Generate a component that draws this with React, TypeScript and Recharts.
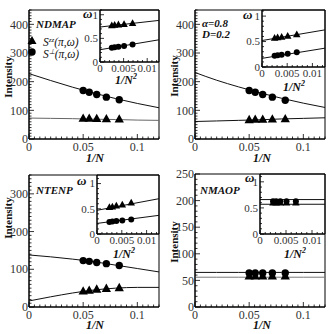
import React from 'react';
import { ComposedChart, XAxis, YAxis, Scatter, Line, ReferenceArea } from 'recharts';

// ---------- data ----------
const invN = [0.05, 0.0556, 0.0625, 0.0714, 0.0833];
const invN2 = [0.0025, 0.0031, 0.0039, 0.0051, 0.0069];
const fitN = [0, 0.02, 0.04, 0.06, 0.08, 0.1, 0.12];
const fitN2 = [0, 0.0125];

// NDMAP
const p1Perp = [169, 163, 155, 146, 137];
const p1Zz = [72, 72, 71, 70, 69];
const p1PerpFit = [228, 204, 181, 160, 141, 124, 109];
const p1ZzFit = [73, 72, 71, 69, 68, 66, 65];
const p1wZz = [0.77, 0.78, 0.79, 0.8, 0.82];
const p1wPerp = [0.3, 0.31, 0.32, 0.34, 0.37];
const p1wZzFit = [0.74, 0.88];
const p1wPerpFit = [0.26, 0.47];

// alpha=0.8, D=0.2
const p2Perp = [169, 163, 155, 146, 135];
const p2Zz = [67, 68, 68, 69, 70];
const p2PerpFit = [232, 205, 182, 161, 142, 125, 110];
const p2ZzFit = [61, 63, 65, 67, 70, 72, 74];
const p2wZz = [0.57, 0.58, 0.59, 0.61, 0.64];
const p2wPerp = [0.22, 0.23, 0.24, 0.26, 0.29];
const p2wZzFit = [0.52, 0.73];
const p2wPerpFit = [0.17, 0.37];

// NTENP
const p3Perp = [123, 121, 118, 115, 110];
const p3Zz = [42, 44, 47, 49, 51];
const p3PerpFit = [138, 133, 127, 120, 111, 102, 93];
const p3ZzFit = [16, 27, 37, 45, 50, 52, 52];
const p3wZz = [0.53, 0.54, 0.56, 0.58, 0.62];
const p3wPerp = [0.24, 0.25, 0.26, 0.27, 0.29];
const p3wZzFit = [0.47, 0.7];
const p3wPerpFit = [0.21, 0.37];

// NMAOP
const p4Perp = [64, 64, 64, 64, 64];
const p4Zz = [58, 58, 58, 58, 58];
const p4PerpFit = [65, 65, 65, 65, 65, 65, 65];
const p4ZzFit = [56, 56, 56, 56, 56, 56, 56];
const p4wPerp = [0.63, 0.63, 0.63, 0.63, 0.63];
const p4wZz = [0.6, 0.6, 0.6, 0.6, 0.6];
const p4wPerpFit = [0.66, 0.66];
const p4wZzFit = [0.57, 0.57];

// tick labels
const mainXMajor = [0, 0.05, 0.1];
const insetXMajor = [0, 0.005, 0.01];
const insetYMajor = [0, 0.5, 1];
const yMajor450 = [0, 100, 200, 300, 400];
const yMajor350 = [0, 100, 200, 300];
const yMajor250 = [0, 50, 100, 150, 200, 250];

const serif = "'Liberation Serif', 'Times New Roman', serif";

function steps(max: number, step: number) {
  const n = Math.floor(max / step + 1e-9);
  return Array.from({ length: n + 1 }, (_, i) => +(i * step).toFixed(6));
}
function pts(xs: number[], ys: number[]) {
  return xs.map((x, i) => ({ x, y: ys[i] }));
}

function makeTick(
  orient: 'bottom' | 'left',
  majors: number[],
  fmt: (v: number) => string,
  fontSize: number,
  majorLen: number,
  minorLen: number,
  margin: number
) {
  return (props: any) => {
    const { x, y, payload } = props;
    const v = payload.value;
    const isMajor = majors.some((m) => Math.abs(m - v) < 1e-9);
    const len = isMajor ? majorLen : minorLen;
    if (orient === 'bottom') {
      const ay = y - margin;
      return (
        <g>
          <line x1={x} y1={ay} x2={x} y2={ay - len} stroke="#000" strokeWidth={0.8} />
          {isMajor && (
            <text x={x} y={y} dy="0.72em" textAnchor="middle" fontSize={fontSize} fontFamily={serif} fill="#333">
              {fmt(v)}
            </text>
          )}
        </g>
      );
    }
    const ax = x + margin;
    return (
      <g>
        <line x1={ax} y1={y} x2={ax + len} y2={y} stroke="#000" strokeWidth={0.8} />
        {isMajor && (
          <text x={x} y={y} dy="0.35em" textAnchor="end" fontSize={fontSize} fontFamily={serif} fill="#333">
            {fmt(v)}
          </text>
        )}
      </g>
    );
  };
}

const fmtMainX = (v: number) => (v === 0 ? '0' : String(v));
const fmtNum = (v: number) => String(v);

const triShape = (s: number) => (props: any) => {
  const { cx, cy } = props;
  return (
    <polygon
      points={`${cx},${cy - s * 0.62} ${cx - s * 0.58},${cy + s * 0.42} ${cx + s * 0.58},${cy + s * 0.42}`}
      fill="#000"
    />
  );
};
const dotShape = (r: number) => (props: any) => <circle cx={props.cx} cy={props.cy} r={r} fill="#000" />;

const mainXTick = makeTick('bottom', mainXMajor, fmtMainX, 12, 5, 2.5, 3);
const insetXTick = makeTick('bottom', insetXMajor, fmtNum, 11, 4, 2, 2);
const insetYTick = makeTick('left', insetYMajor, fmtNum, 11, 4, 2, 2);

type MainProps = {
  left: number; top: number; mt: number; mr: number; yw: number; xh: number;
  yMax: number; yMajors: number[];
  perp: number[]; zz: number[]; perpFit: number[]; zzFit: number[]; zzColor: string;
};

function Main(p: MainProps) {
  const yTick = makeTick('left', p.yMajors, fmtNum, 12, 5, 2.5, 1);
  return (
    <div style={{ position: 'absolute', left: p.left, top: p.top }}>
      <ComposedChart width={167} height={167} margin={{ top: p.mt, right: p.mr, left: 0, bottom: 0 }}>
        <XAxis dataKey="x" type="number" domain={[0, 0.12]} ticks={steps(0.12, 0.005)} interval={0}
          tick={mainXTick} tickLine={false} tickSize={0} tickMargin={3} height={p.xh}
          axisLine={{ stroke: '#000' }} allowDataOverflow />
        <YAxis type="number" domain={[0, p.yMax]} ticks={steps(p.yMax, 10)} interval={0}
          tick={yTick} tickLine={false} tickSize={0} tickMargin={1} width={p.yw}
          axisLine={{ stroke: '#000' }} allowDataOverflow />
        <ReferenceArea x1={0} x2={0.12} y1={0} y2={p.yMax} fill="none" stroke="#000" strokeWidth={1} ifOverflow="visible" />
        <Line data={pts(fitN, p.zzFit)} dataKey="y" type="monotone" dot={false} activeDot={false}
          stroke={p.zzColor} strokeWidth={1} isAnimationActive={false} />
        <Line data={pts(fitN, p.perpFit)} dataKey="y" type="monotone" dot={false} activeDot={false}
          stroke="#111" strokeWidth={1} isAnimationActive={false} />
        <Scatter data={pts(invN, p.zz)} dataKey="y" shape={triShape(8)} isAnimationActive={false} />
        <Scatter data={pts(invN, p.perp)} dataKey="y" shape={dotShape(3.7)} isAnimationActive={false} />
      </ComposedChart>
    </div>
  );
}

type InsetProps = {
  left: number; top: number; width: number; height: number; yMax: number;
  perp: number[]; zz: number[]; perpFit: number[]; zzFit: number[];
};

function Inset(p: InsetProps) {
  return (
    <div style={{ position: 'absolute', left: p.left, top: p.top }}>
      <ComposedChart width={p.width} height={p.height} margin={{ top: 1, right: 1, left: 0, bottom: 0 }}>
        <XAxis dataKey="x" type="number" domain={[0, 0.0125]} ticks={steps(0.0125, 0.001)} interval={0}
          tick={insetXTick} tickLine={false} tickSize={0} tickMargin={2} height={14}
          axisLine={{ stroke: '#000' }} allowDataOverflow />
        <YAxis type="number" domain={[0, p.yMax]} ticks={steps(p.yMax, 0.1)} interval={0}
          tick={insetYTick} tickLine={false} tickSize={0} tickMargin={2} width={22}
          axisLine={{ stroke: '#000' }} allowDataOverflow />
        <ReferenceArea x1={0} x2={0.0125} y1={0} y2={p.yMax} fill="none" stroke="#000" strokeWidth={1} ifOverflow="visible" />
        <Line data={pts(fitN2, p.zzFit)} dataKey="y" type="linear" dot={false} activeDot={false}
          stroke="#111" strokeWidth={1} isAnimationActive={false} />
        <Line data={pts(fitN2, p.perpFit)} dataKey="y" type="linear" dot={false} activeDot={false}
          stroke="#111" strokeWidth={1} isAnimationActive={false} />
        <Scatter data={pts(invN2, p.zz)} dataKey="y" shape={triShape(6.5)} isAnimationActive={false} />
        <Scatter data={pts(invN2, p.perp)} dataKey="y" shape={dotShape(3)} isAnimationActive={false} />
      </ComposedChart>
    </div>
  );
}

const bi = { fontFamily: serif, fontWeight: 700, fontStyle: 'italic' as const, fill: '#111' };

function InvN2Label({ x, y }: { x: number; y: number }) {
  return (
    <text x={x} y={y} fontSize={12} {...bi}>
      1/N<tspan dy={-5} fontSize={8}>2</tspan>
    </text>
  );
}

function Overlay() {
  return (
    <svg width={334} height={334} style={{ position: 'absolute', left: 0, top: 0, pointerEvents: 'none' }}>
      {/* panel titles */}
      <text x={36} y={28} fontSize={11} {...bi}>NDMAP</text>
      <text x={202} y={27} fontSize={11} {...bi}>α=0.8</text>
      <text x={202} y={38} fontSize={11} {...bi}>D=0.2</text>
      <text x={36} y={194} fontSize={11} {...bi}>NTENP</text>
      <text x={200} y={194} fontSize={11} {...bi}>NMAOP</text>

      {/* legend */}
      <polygon points="32,36 27.5,44 36.5,44" fill="#000" />
      <circle cx={32} cy={52} r={3.7} fill="#000" />
      <text x={43} y={46} fontSize={11.5} fontFamily={serif} fontStyle="italic" fill="#111">
        S<tspan dy={-4} fontSize={7}>zz</tspan><tspan dy={4}>(π,ω)</tspan>
      </text>
      <text x={43} y={58} fontSize={11.5} fontFamily={serif} fontStyle="italic" fill="#111">
        S<tspan dy={-4} fontSize={7}>⊥</tspan><tspan dy={4}>(π,ω)</tspan>
      </text>

      {/* omega labels */}
      <text x={83} y={18} fontSize={13} {...bi}>ω</text>
      <text x={243} y={19} fontSize={13} {...bi}>ω</text>
      <text x={77} y={185} fontSize={13} {...bi}>ω</text>
      <text x={245} y={182} fontSize={13} {...bi}>ω</text>

      {/* inset x labels */}
      <InvN2Label x={115} y={84} />
      <InvN2Label x={283} y={91} />
      <InvN2Label x={113} y={258} />
      <InvN2Label x={284} y={258} />

      {/* main x labels */}
      <text x={95} y={162} fontSize={12} textAnchor="middle" {...bi}>1/N</text>
      <text x={262} y={162} fontSize={12} textAnchor="middle" {...bi}>1/N</text>
      <text x={95} y={329} fontSize={12} textAnchor="middle" {...bi}>1/N</text>
      <text x={262} y={329} fontSize={12} textAnchor="middle" {...bi}>1/N</text>

      {/* y labels */}
      {[
        [12, 77],
        [178, 76],
        [12, 218],
        [178, 242],
      ].map(([x, y], i) => (
        <text key={i} x={x} y={y} transform={`rotate(-90 ${x} ${y})`} textAnchor="middle" fontSize={11}
          fontFamily={serif} fontWeight={700} fill="#111">Intensity</text>
      ))}
    </svg>
  );
}

export default function App() {
  return (
    <div style={{ position: 'absolute', left: 0, top: 0, width: 334, height: 334, background: '#fff' }}>
      <Main left={0} top={0} mt={10} mr={8} yw={29} xh={28} yMax={450} yMajors={yMajor450}
        perp={p1Perp} zz={p1Zz} perpFit={p1PerpFit} zzFit={p1ZzFit} zzColor="#666" />
      <Main left={167} top={0} mt={10} mr={9} yw={28} xh={28} yMax={450} yMajors={yMajor450}
        perp={p2Perp} zz={p2Zz} perpFit={p2PerpFit} zzFit={p2ZzFit} zzColor="#111" />
      <Main left={0} top={167} mt={8} mr={8} yw={29} xh={27} yMax={350} yMajors={yMajor350}
        perp={p3Perp} zz={p3Zz} perpFit={p3PerpFit} zzFit={p3ZzFit} zzColor="#111" />
      <Main left={167} top={167} mt={7} mr={9} yw={28} xh={27} yMax={250} yMajors={yMajor250}
        perp={p4Perp} zz={p4Zz} perpFit={p4PerpFit} zzFit={p4ZzFit} zzColor="#777" />

      <Inset left={78} top={9} width={82} height={67} yMax={1.1}
        perp={p1wPerp} zz={p1wZz} perpFit={p1wPerpFit} zzFit={p1wZzFit} />
      <Inset left={240} top={9} width={86} height={72} yMax={1.12}
        perp={p2wPerp} zz={p2wZz} perpFit={p2wPerpFit} zzFit={p2wZzFit} />
      <Inset left={75} top={174} width={85} height={74} yMax={1.17}
        perp={p3wPerp} zz={p3wZz} perpFit={p3wPerpFit} zzFit={p3wZzFit} />
      <Inset left={238} top={173} width={88} height={75} yMax={1.15}
        perp={p4wPerp} zz={p4wZz} perpFit={p4wPerpFit} zzFit={p4wZzFit} />

      <Overlay />
    </div>
  );
}
